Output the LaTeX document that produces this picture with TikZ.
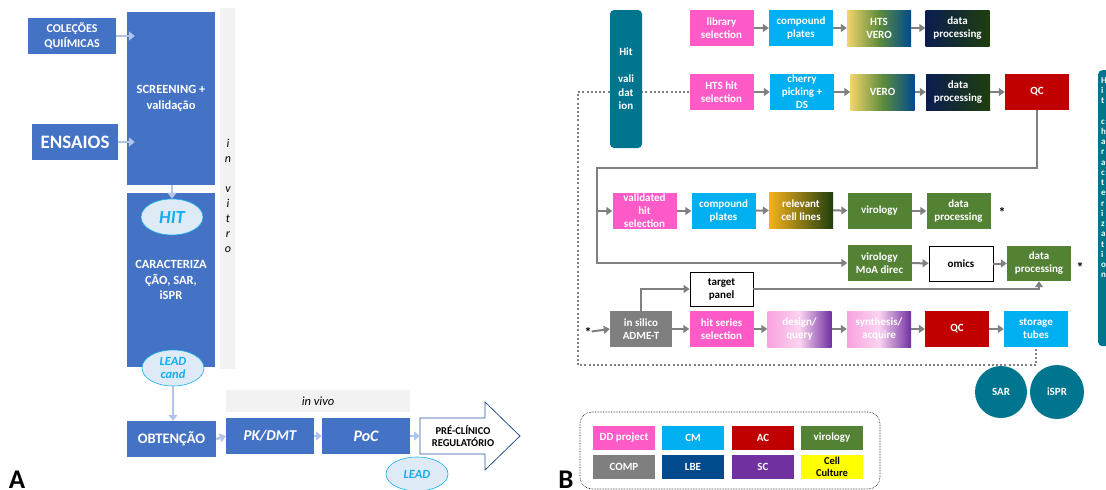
\documentclass[tikz,border=0pt]{standalone}
\usepackage{fontspec}
\setmainfont{Carlito}
\usepackage{xcolor}
\usetikzlibrary{arrows.meta,positioning,calc,shapes.geometric}

\definecolor{azulA}{HTML}{4472C4}
\definecolor{setaA}{HTML}{B0C5E8}
\definecolor{elipA}{HTML}{DEEBF7}
\definecolor{cianoA}{HTML}{12AEEF}
\definecolor{cinzaA}{HTML}{F2F2F2}
\definecolor{bordaA}{HTML}{2F5597}
\definecolor{ddpink}{HTML}{FF5BC8}
\definecolor{cmcyan}{HTML}{00B0F0}
\definecolor{acred}{HTML}{C00000}
\definecolor{virgreen}{HTML}{548235}
\definecolor{compgray}{HTML}{7F7F7F}
\definecolor{lbeblue}{HTML}{004A8D}
\definecolor{scpurple}{HTML}{7030A0}
\definecolor{ccyellow}{HTML}{FFFF00}
\definecolor{tealB}{HTML}{00758F}
\definecolor{navyB}{HTML}{0A1D4F}
\definecolor{dkgreenB}{HTML}{1F3E0D}
\definecolor{veroY}{HTML}{F2D46B}
\definecolor{veroG}{HTML}{5E8C3C}
\definecolor{orangeB}{HTML}{F6B21E}
\definecolor{lpinkB}{HTML}{F8A3DF}
\definecolor{paleB}{HTML}{FBD3F0}
\definecolor{arrowB}{HTML}{808080}

\begin{document}
\begin{tikzpicture}[x=1pt, y=-1pt,
  lbox/.style={fill=azulA, text=white, align=center, inner sep=1pt,
    font=\bfseries\fontsize{12}{15}\selectfont},
  lell/.style={ellipse, draw=cianoA, line width=0.6pt, fill=elipA, text=cianoA,
    inner sep=0pt, minimum width=62pt, minimum height=36pt, align=center,
    font=\bfseries\itshape\fontsize{12.5}{13}\selectfont},
  larrow/.style={-{Triangle[length=6pt,width=9pt]}, setaA, line width=2.5pt},
  rbox/.style={minimum width=64pt, minimum height=36pt, inner sep=1pt,
    align=center, text=white, font=\bfseries\fontsize{11}{13}\selectfont},
  wbox/.style={rbox, fill=white, draw=black, line width=0.8pt, text=black},
  rarrow/.style={-{Triangle[length=6pt,width=8pt]}, arrowB, line width=2pt},
  dotline/.style={arrowB, line width=2pt, dash pattern=on 2pt off 2.2pt},
  verosh/.style={left color=veroY, right color=lbeblue, middle color=veroG},
  procsh/.style={left color=navyB, right color=dkgreenB},
  cellsh/.style={left color=orangeB, right color=dkgreenB},
  designsh/.style={left color=lpinkB, right color=scpurple, middle color=paleB},
  legbox/.style={minimum width=62pt, minimum height=24pt, inner sep=0pt,
    align=center, text=white, font=\bfseries\fontsize{11}{12}\selectfont},
  starlbl/.style={font=\bfseries\fontsize{14}{14}\selectfont, inner sep=0pt}]
  \useasboundingbox (0,0) rectangle (1106,490);
  \clip (0,0) rectangle (1106,490);

  % ---------- A ----------
  \node[fill=cinzaA, minimum width=15pt, minimum height=361pt, inner sep=0] (vitrobar) at (227.5,188.5) {};
  \node[font=\itshape\fontsize{12}{15}\selectfont, align=center, inner sep=0] (vitro) at (228,196) {i\\n\\[15pt]v\\i\\t\\r\\o};
  \node[fill=cinzaA, minimum width=184pt, minimum height=22pt, inner sep=0,
    font=\itshape\fontsize{12.5}{14}\selectfont] (vivo) at (318,401) {in vivo};

  \node[lbox, minimum width=88pt, minimum height=36pt] (col) at (72,36) {COLEÇÕES\\QUIÍMICAS};
  \node[lbox, minimum width=86pt, minimum height=36pt, font=\bfseries\fontsize{19}{20}\selectfont] (ens) at (75,142) {ENSAIOS};
  \node[lbox, minimum width=88pt, minimum height=173pt, font=\bfseries\fontsize{12.5}{16}\selectfont] (scr) at (171,98.5) {SCREENING +\\validação};
  \node[lbox, minimum width=88pt, minimum height=174pt, font=\bfseries\fontsize{12.5}{15.5}\selectfont] (car) at (171,280) {CARACTERIZA\\ÇÃO, SAR,\\iSPR};
  \node[lell, font=\bfseries\itshape\fontsize{18.5}{19}\selectfont] (hit) at (172,217) {HIT};
  \node[lell] (leadc) at (173,368) {LEAD\\cand};

  \node[lbox, minimum width=89pt, minimum height=36pt, font=\bfseries\fontsize{14.5}{16}\selectfont] (obt) at (171.5,439) {OBTENÇÃO};
  \node[lbox, minimum width=88pt, minimum height=36pt, font=\bfseries\itshape\fontsize{15}{16}\selectfont] (pk) at (270,436) {PK/DMT};
  \node[lbox, minimum width=88pt, minimum height=36pt, font=\bfseries\itshape\fontsize{16}{17}\selectfont] (poc) at (366,436) {PoC};
  \draw[bordaA, line width=0.8pt, fill=white] (420,418) -- (485,418) -- (485,402) -- (520,436)
    -- (485,470) -- (485,454) -- (420,454) -- cycle;
  \coordinate (pretail) at (420,436);
  \node[font=\bfseries\fontsize{10.5}{12.5}\selectfont, align=center, inner sep=0] (pre) at (463,436) {PRÉ-CLÍNICO\\REGULATÓRIO};
  \node[lell, minimum height=34pt] (lead) at (417,474) {LEAD};

  \draw[larrow] (col.east) -- ($(col.east -| scr.west)+(8,0)$);
  \draw[larrow] (ens.east) -- ($(ens.east -| scr.west)+(8,0)$);
  \draw[larrow] (scr.south -| hit.north) -- (hit.north);
  \draw[larrow] (leadc.south) -- (leadc.south |- obt.north);
  \draw[larrow] (obt.east) -- (pk.west);
  \draw[larrow] (pk.east) -- (poc.west);
  \draw[larrow] (poc.east) -- (pretail);

  \node[font=\bfseries\fontsize{27}{27}\selectfont, anchor=base, inner sep=0] (lblA) at (17,488.5) {A};

  % ---------- B ----------
  \coordinate (dotnw) at (578,92);
  \coordinate (dotse) at (1036,365);
  \coordinate (trunk) at (597,168);

  % row 1
  \node[rbox, fill=ddpink] (lib) at (721.5,28) {library\\selection};
  \node[rbox, fill=cmcyan] (cp1) at (801,28) {compound\\plates};
  \node[rbox, verosh] (hts) at (879,28) {HTS\\VERO};
  \node[rbox, procsh] (dp1) at (957.5,28) {data\\processing};
  % row 2
  \node[rbox, fill=ddpink] (hhs) at (721.5,92) {HTS hit\\selection};
  \node[rbox, fill=cmcyan] (chp) at (802,92) {cherry\\picking +\\DS};
  \node[rbox, verosh] (vero) at (882.5,92) {VERO};
  \node[rbox, procsh] (dp2) at (958,92) {data\\processing};
  \node[rbox, fill=acred] (qc1) at (1037,92) {QC};
  % row 3
  \node[rbox, fill=ddpink] (vhs) at (644.5,211) {validated\\hit\\selection};
  \node[rbox, fill=cmcyan] (cp2) at (723.5,211) {compound\\plates};
  \node[rbox, cellsh] (rcl) at (801,210) {relevant\\cell lines};
  \node[rbox, fill=virgreen] (vir) at (879.5,211) {virology};
  \node[rbox, fill=virgreen] (dp3) at (958.5,211) {data\\processing};
  \node[starlbl] (ast3) at (1002,212) {*};
  % row 4
  \node[rbox, fill=virgreen] (vmoa) at (879.5,263) {virology\\MoA direc};
  \node[wbox, minimum height=35pt] (omics) at (961,263.5) {omics};
  \node[rbox, fill=virgreen, minimum height=35pt] (dp4) at (1039,263.5) {data\\processing};
  \node[starlbl] (ast4) at (1080,267) {*};
  % row 5
  \node[wbox, minimum width=63pt, minimum height=34pt] (target) at (721.5,289) {target\\panel};
  \node[rbox, fill=compgray, minimum width=62pt] (adme) at (641,329) {in silico\\ADME-T};
  \node[rbox, fill=ddpink] (hss) at (721.5,329) {hit series\\selection};
  \node[rbox, designsh] (dq) at (799.5,329) {design/\\query};
  \node[rbox, designsh] (sa) at (879,329) {synthesis/\\acquire};
  \node[rbox, fill=acred] (qc2) at (957,329) {QC};
  \node[rbox, fill=cmcyan] (st) at (1036,329) {storage\\tubes};
  \node[starlbl] (ast5) at (588,332) {*};

  \draw[dotline] (hhs.west) -- (dotnw) |- (dotse) -- (st.south);
  \node[fill=tealB, rounded corners=4pt, minimum width=32pt, minimum height=138pt, inner sep=0,
    text=white, align=center, font=\bfseries\fontsize{11}{13.5}\selectfont] (hitval) at (626,79) {Hit\\[13.5pt]vali\\dat\\ion};

  \draw[rarrow] (lib) -- (cp1);
  \draw[rarrow] (cp1) -- (hts);
  \draw[rarrow] (hts) -- (dp1);
  \draw[rarrow] (hhs) -- (chp);
  \draw[rarrow] (chp) -- (vero);
  \draw[rarrow] (vero) -- (dp2);
  \draw[rarrow] (dp2) -- (qc1);
  \draw[rarrow] (qc1.south) |- (trunk) |- (vmoa.west);
  \draw[rarrow] (trunk |- vhs.west) -- (vhs.west);
  \draw[rarrow] (vhs) -- (cp2);
  \draw[rarrow] (cp2) -- (rcl);
  \draw[rarrow] (rcl) -- (vir);
  \draw[rarrow] (vir) -- (dp3);
  \draw[rarrow] (vmoa) -- (omics);
  \draw[rarrow] (omics) -- (dp4);
  \draw[rarrow] (adme.north) |- (target.west);
  \draw[rarrow] (target.east) -| (dp4.south);
  \draw[rarrow] (ast5) -- (adme.west);
  \draw[rarrow] (adme) -- (hss);
  \draw[rarrow] (hss) -- (dq);
  \draw[rarrow] (dq) -- (sa);
  \draw[rarrow] (sa) -- (qc2);
  \draw[rarrow] (qc2) -- (st);

  \node[circle, fill=tealB, minimum size=52pt, inner sep=0, text=white,
    font=\bfseries\fontsize{11}{13}\selectfont] (sar) at (1001,392) {SAR};
  \node[circle, fill=tealB, minimum size=54pt, inner sep=0, text=white,
    font=\bfseries\fontsize{11}{13}\selectfont] (ispr) at (1057,392) {iSPR};

  % side box, cut by the page edge
  \node[fill=tealB, rounded corners=4pt, minimum width=30pt, minimum height=276pt,
    anchor=north west, inner sep=0] (hitchar) at (1098,70) {};
  \foreach \ch [count=\i] in {H,i,t,{},c,h,a,r,a,c,t,e,r,i,z,a,t,i,o,n}
    \node[text=white, anchor=base west, inner sep=0, font=\bfseries\fontsize{9}{10}\selectfont]
      (hc\i) at (1101,{83+(\i-1)*10.26}) {\ch};

  % legend
  \draw[densely dotted, line width=0.6pt, rounded corners=12pt] (580,412) rectangle (880,489);
  \node[legbox, fill=ddpink] (legdd) at (624,438) {DD project};
  \node[legbox, fill=cmcyan] (legcm) at (693,438) {CM};
  \node[legbox, fill=acred] (legac) at (763,438) {AC};
  \node[legbox, fill=virgreen] (legvir) at (832,438) {virology};
  \node[legbox, fill=compgray] (legcomp) at (624,467) {COMP};
  \node[legbox, fill=lbeblue] (leglbe) at (693,467) {LBE};
  \node[legbox, fill=scpurple] (legsc) at (763,467) {SC};
  \node[legbox, fill=ccyellow, text=black, font=\bfseries\fontsize{10.5}{12}\selectfont] (legcc) at (832,467) {Cell\\Culture};

  \node[font=\bfseries\fontsize{27}{27}\selectfont, anchor=base, inner sep=0] (lblB) at (566,488.5) {B};
\end{tikzpicture}
\end{document}
